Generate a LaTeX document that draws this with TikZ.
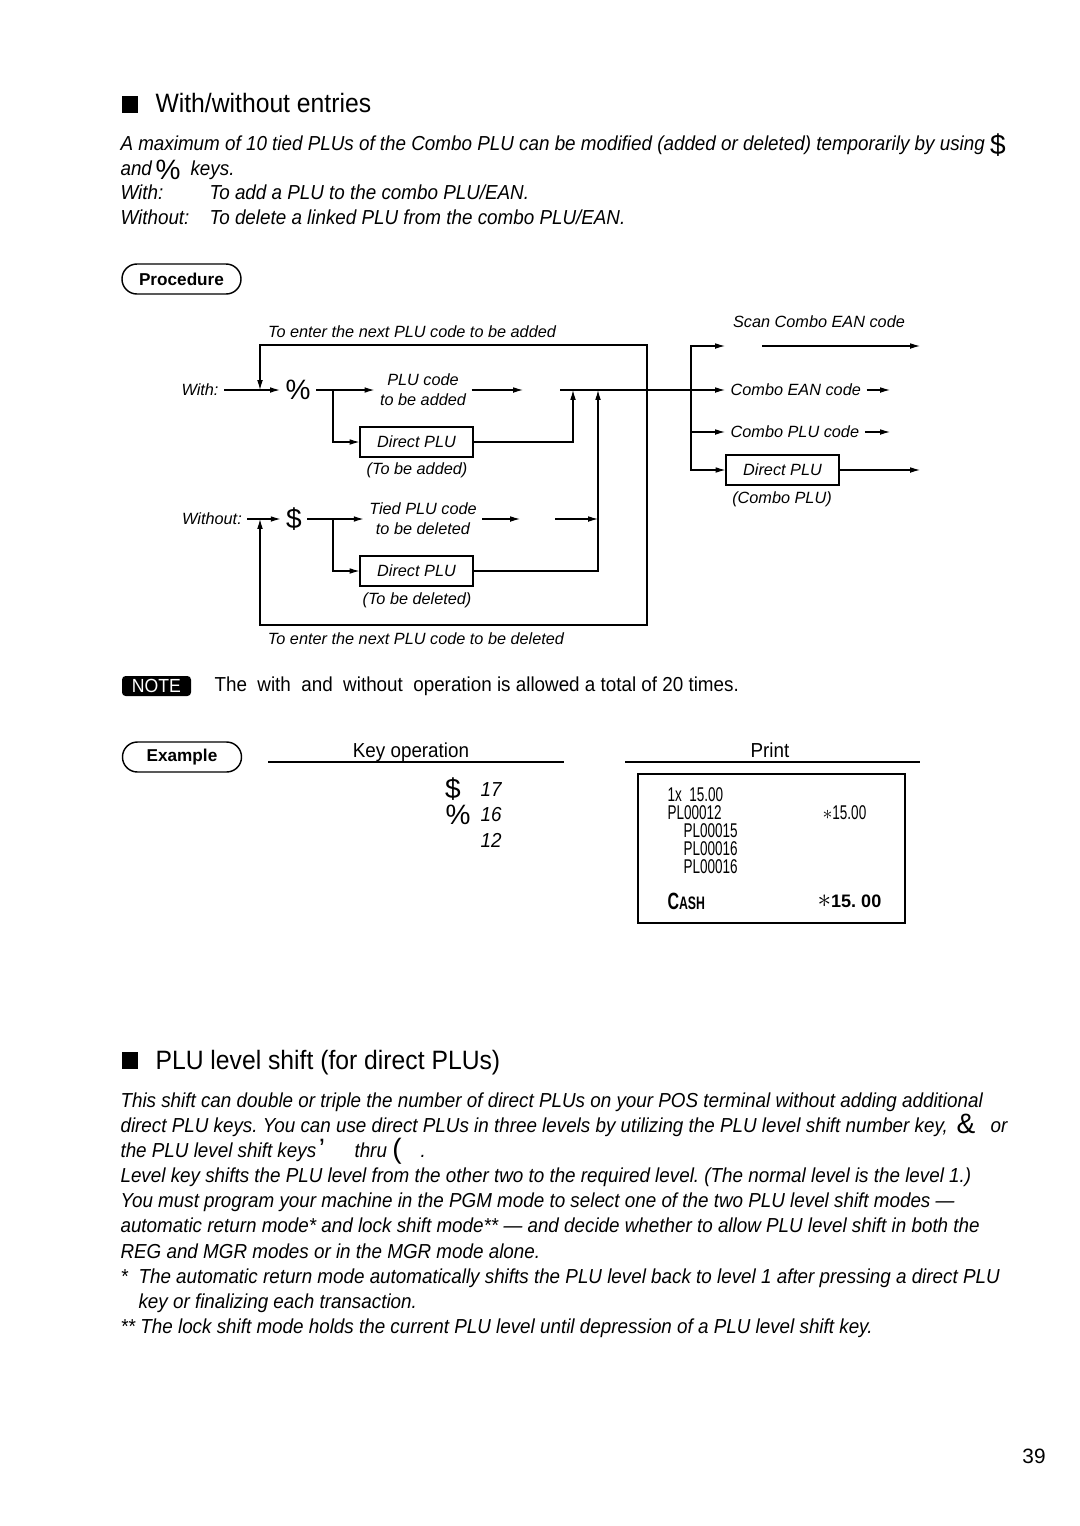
\documentclass[tikz,border=0pt]{standalone}
\usepackage{graphicx}
\usepackage{fontspec}
\setmainfont{Liberation Sans}
\newfontfamily\narrowsans{Liberation Sans}[FakeStretch=0.93, Ligatures=TeX]
\newfontfamily\tillsans{Liberation Sans}[FakeStretch=0.68]
\usetikzlibrary{arrows.meta,positioning}

\newcommand\pxl{0.19444mm}

\tikzset{
    body/.style = {anchor = base west, inner sep = 0pt, font = \fontsize{11.2}{13}\narrowsans\itshape\frenchspacing},
    plain/.style = {anchor = base west, inner sep = 0pt, font = \fontsize{11.2}{13}\narrowsans\frenchspacing},
    heading/.style = {anchor = base west, inner sep = 0pt, font = \fontsize{14.7}{17}\narrowsans},
    keycap/.style = {inner sep = 0pt, font = \fontsize{15.5}{16}\selectfont},
    keynode/.style = {keycap, inner sep = 1mm},
    flow/.style = {inner sep = 1mm, align = center, font = \fontsize{9}{11}\selectfont\itshape},
    plubox/.style = {flow, draw, minimum width = 113*\pxl, minimum height = 30*\pxl, inner sep = 0pt},
    pill/.style = {draw, line width = 0.8pt, rounded corners = 2.9mm, minimum width = 119*\pxl, minimum height = 30*\pxl, font = \fontsize{9.5}{11}\selectfont\bfseries},
    notetag/.style = {fill, rounded corners = 0.7mm, minimum width = 69*\pxl, minimum height = 20*\pxl, inner sep = 0pt, text = white, font = \fontsize{10.5}{11}\narrowsans},
    till/.style = {anchor = west, inner sep = 0pt, font = \fontsize{11}{12}\tillsans}
}

\begin{document}
\begin{tikzpicture}[x = \pxl, y = -\pxl, line width = 0.6pt, >={Latex[length = 1.9mm, width = 1.1mm]}]
    \useasboundingbox (0,0) rectangle (1080,1526);

    % first section
    \fill (122,96) rectangle (138,113);
    \node[heading] (h1) at (155,112) {With/without entries};
    \node[body] (p1) at (120,150) {A maximum of 10 tied PLUs of the Combo PLU can be modified (added or deleted) temporarily by using};
    \node[keycap] (k1) at (998,145) {\$};
    \node[body] (p2) at (120,175) {and};
    \node[keycap] (k2) at (168,170) {\%};
    \node[body] (p2b) at (190,175) {keys.};
    \node[body] (p3) at (120,199) {With:};
    \node[body] (p3b) at (209,199) {To add a PLU to the combo PLU/EAN.};
    \node[body] (p4) at (120,224) {Without:};
    \node[body] (p4b) at (209,224) {To delete a linked PLU from the combo PLU/EAN.};

    \node[pill] (proc) at (181.5,279) {Procedure};

    % flow chart, left part
    \node[flow] (toptxt) at (412,332) {To enter the next PLU code to be added};
    \node[flow] (with) at (200,390) {With:};
    \node[keynode] (pct) at (298,390) {\%};
    \node[flow] (pcode) at (423,390) {PLU code\\to be added};
    \node[plubox] (dpa) at (416.5,442) {Direct PLU};
    \node[flow] (dpacap) at (417,470) {(To be added)};
    \node[flow] (without) at (212,519) {Without:};
    \node[keynode] (dol) at (294,519) {\$};
    \node[flow] (tpc) at (423,519) {Tied PLU code\\to be deleted};
    \node[plubox] (dpd) at (416.5,571) {Direct PLU};
    \node[flow] (dpdcap) at (417,600) {(To be deleted)};
    \node[flow] (bottxt) at (416,639) {To enter the next PLU code to be deleted};

    \coordinate (wjoin) at (260,390);
    \coordinate (wsplit) at (333,390);
    \coordinate (wend) at (523,390);
    \coordinate (trunk) at (560,390);
    \coordinate (ua) at (573,390);
    \coordinate (ud) at (598,390);
    \coordinate (loopr) at (647,390);
    \coordinate (ltr) at (647,345);
    \coordinate (lbr) at (647,625);
    \coordinate (wojoin) at (260,519);
    \coordinate (dsplit) at (333,519);
    \coordinate (dend) at (520,519);
    \coordinate (dgo) at (555,519);
    \coordinate (dhit) at (598,519);

    \draw[->] (with) -- (pct);
    \draw[->] (pct) -- (pcode);
    \draw[->] (wsplit) |- (dpa.west);
    \draw[->] (pcode) -- (wend);
    \draw[->] (dpa.east) -| (ua);
    \draw[->] (without) -- (dol);
    \draw[->] (dol) -- (tpc);
    \draw[->] (dsplit) |- (dpd.west);
    \draw[->] (tpc) -- (dend);
    \draw[->] (dgo) -- (dhit);
    \draw[->] (dpd.east) -| (ud);
    \draw[->] (loopr) -- (ltr) -| (wjoin);
    \draw[->] (loopr) -- (lbr) -| (wojoin);

    % flow chart, right part
    \node[flow] (scan) at (819,322) {Scan Combo EAN code};
    \node[flow, anchor = west] (cean) at (725,390) {Combo EAN code};
    \node[flow, anchor = west] (cplu) at (725,432) {Combo PLU code};
    \node[plubox] (dpc) at (782.5,470) {Direct PLU};
    \node[flow] (dpccap) at (782,499) {(Combo PLU)};

    \coordinate (fork) at (691,390);
    \coordinate (scanin) at (725,346);
    \coordinate (scanout) at (762,346);
    \coordinate (scanend) at (920,346);
    \coordinate (ceanend) at (890,390);
    \coordinate (cpluend) at (890,432);
    \coordinate (dpcend) at (920,470);

    \draw[->] (trunk) -- (cean);
    \draw[->] (fork) |- (scanin);
    \draw[->] (fork) |- (cplu.west);
    \draw[->] (fork) |- (dpc.west);
    \draw[->] (scanout) -- (scanend);
    \draw[->] (cean) -- (ceanend);
    \draw[->] (cplu) -- (cpluend);
    \draw[->] (dpc) -- (dpcend);

    % note and example
    \node[notetag] (note) at (156.5,686) {NOTE};
    \node[plain] (notetxt) at (214,691) {The\ \ with\ \ and\ \ without\ \ operation is allowed a total of 20 times.};

    \node[pill] (ex) at (182,757) {Example};
    \node[plain, anchor = base] (keyop) at (411,757) {Key operation};
    \node[plain, anchor = base] (print) at (770,757) {Print};
    \draw (268,762) -- (564,762);
    \draw (625,762) -- (920,762);

    \node[keycap] (kd) at (453,789) {\$};
    \node[body] (n17) at (480,796) {17};
    \node[keycap] (kp) at (458,815) {\%};
    \node[body] (n16) at (480,821) {16};
    \node[body] (n12) at (480,847) {12};

    \draw (638,774) rectangle (905,923);
    \node[till] (r1) at (667,795) {1x\ \ 15.00};
    \node[till] (r2) at (667,813) {PL00012};
    \node[till] (r2b) at (822,813) {$\ast$15.00};
    \node[till] (r3) at (683,831) {PL00015};
    \node[till] (r4) at (683,849) {PL00016};
    \node[till] (r5) at (683,867) {PL00016};
    \node[till, font = \fontsize{10}{11}\tillsans\bfseries] (r6) at (667,901) {{\fontsize{13}{13}\selectfont C}ASH};
    \node[till, font = \fontsize{10}{11}\selectfont\bfseries] (r6b) at (817,901) {\scalebox{1.5}{$\ast$}15.\ 00};

    % second section
    \fill (122,1052) rectangle (138,1069);
    \node[heading] (h2) at (155,1069) {PLU level shift (for direct PLUs)};
    \node[body] (q1) at (120,1107) {This shift can double or triple the number of direct PLUs on your POS terminal without adding additional};
    \node[body] (q2) at (120,1132) {direct PLU keys. You can use direct PLUs in three levels by utilizing the PLU level shift number key,};
    \node[keycap] (k3) at (966,1124) {\&};
    \node[body] (q2b) at (990,1132) {or};
    \node[body] (q3) at (120,1157) {the PLU level shift keys};
    \node[keycap, anchor = base] (k4) at (322,1158) {'};
    \node[body] (q3b) at (354,1157) {thru};
    \node[keycap, anchor = base] (k5) at (397,1158) {(};
    \node[body] (q3c) at (420,1157) {.};
    \node[body] (q4) at (120,1182) {Level key shifts the PLU level from the other two to the required level. (The normal level is the level 1.)};
    \node[body] (q5) at (120,1207) {You must program your machine in the PGM mode to select one of the two PLU level shift modes \textemdash};
    \node[body] (q6) at (120,1232) {automatic return mode* and lock shift mode** \textemdash\ and decide whether to allow PLU level shift in both the};
    \node[body] (q7) at (120,1258) {REG and MGR modes or in the MGR mode alone.};
    \node[body] (q8) at (120,1283) {*};
    \node[body] (q8b) at (138,1283) {The automatic return mode automatically shifts the PLU level back to level 1 after pressing a direct PLU};
    \node[body] (q9) at (138,1308) {key or finalizing each transaction.};
    \node[body] (q10) at (120,1333) {** The lock shift mode holds the current PLU level until depression of a PLU level shift key.};

    \node[inner sep = 0pt, font = \fontsize{11.5}{13}\selectfont] (pg) at (1034,1456) {39};
\end{tikzpicture}
\end{document}
